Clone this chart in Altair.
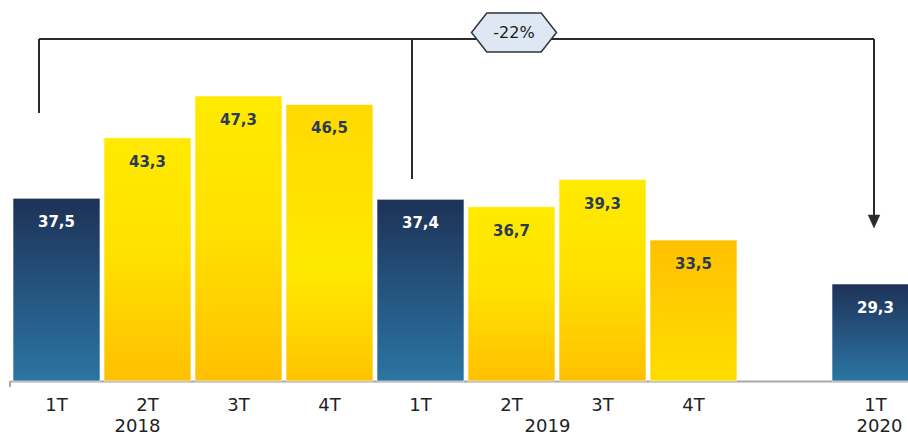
import altair as alt
import pandas as pd

# ---- data ----
slots = ["2018-1T", "2018-2T", "2018-3T", "2018-4T",
         "2019-1T", "2019-2T", "2019-3T", "2019-4T", "gap", "2020-1T"]
bar_slots = ["2018-1T", "2018-2T", "2018-3T", "2018-4T",
             "2019-1T", "2019-2T", "2019-3T", "2019-4T", "2020-1T"]
quarters = ["1T", "2T", "3T", "4T", "1T", "2T", "3T", "4T", "1T"]
years = ["2018"] * 4 + ["2019"] * 4 + ["2020"]
values = [37.5, 43.3, 47.3, 46.5, 37.4, 36.7, 39.3, 33.5, 29.3]
change_label = "-22%"

df = pd.DataFrame({"slot": bar_slots, "quarter": quarters, "year": years, "value": values})
df["label"] = [f"{v:.1f}".replace(".", ",") for v in values]
one = pd.DataFrame({"k": [0]})

FONT = "DejaVu Sans"
LINE = "#2b2b2b"


def grad(stops):
    return {"gradient": "linear", "x1": 0, "x2": 0, "y1": 0, "y2": 1,
            "stops": [{"offset": o, "color": c} for o, c in stops]}


blue_g = grad([(0, "#1d3257"), (0.5, "#25547f"), (1, "#2b75a2")])
yel_g = grad([(0, "#ffea00"), (0.45, "#ffe200"), (1, "#ffc000")])
yel_mid_g = grad([(0, "#ffd900"), (0.6, "#ffe900"), (1, "#ffc400")])
yel_rev_g = grad([(0, "#ffc000"), (1, "#ffdd00")])

xscale = alt.Scale(domain=slots, range=[0, 912], paddingInner=0.044, paddingOuter=0.033)
x_axis = alt.Axis(
    labelExpr="indexof(datum.label, '-') > 0 ? split(datum.label, '-')[1] : ''",
    labelAngle=0, labelFont=FONT, labelFontSize=18, labelColor="#222222",
    labelBaseline="alphabetic", labelPadding=29, ticks=False, tickSize=0,
    domainColor="#a8a8a8", domainWidth=2, labelOverlap=False, grid=False, title=None,
)
x_enc = alt.X("slot:N", scale=xscale, title=None, axis=x_axis)
y_enc = alt.Y("value:Q", scale=alt.Scale(domain=[20, 56.5], zero=False, nice=False), axis=None)

base = alt.Chart(df)


def bars(filt, g):
    return base.transform_filter(filt).mark_bar(
        color=g, stroke="#ffffff", strokeOpacity=0.6, strokeWidth=1
    ).encode(x=x_enc, y=y_enc, y2=alt.datum(20))


blue_bars = bars(alt.datum.quarter == "1T", blue_g)
yel_bars = bars((alt.datum.quarter == "2T") | (alt.datum.quarter == "3T"), yel_g)
yel_mid_bars = bars(alt.datum.slot == "2018-4T", yel_mid_g)
yel_rev_bars = bars(alt.datum.slot == "2019-4T", yel_rev_g)

labels = base.mark_text(
    font=FONT, fontSize=15, fontWeight="bold", baseline="alphabetic", dy=29
).encode(
    x=x_enc, y=y_enc, text="label:N",
    color=alt.condition(alt.datum.quarter == "1T", alt.value("#ffffff"), alt.value("#2b3a55")),
)


def year_text(year, dx):
    return base.transform_filter(
        (alt.datum.year == year) & (alt.datum.quarter == ("1T" if year == "2020" else "2T"))
    ).mark_text(font=FONT, fontSize=18, color="#222222", baseline="alphabetic", dx=dx).encode(
        x=x_enc, y=alt.value(432), text="year:N"
    )


yr18 = year_text("2018", -10)
yr19 = year_text("2019", 36)
yr20 = year_text("2020", 4)

ann = alt.Chart(one)


def xd(slot):
    return alt.X(datum=slot, type="nominal", scale=xscale, axis=x_axis)


top_line = ann.mark_rule(color=LINE, strokeWidth=2, xOffset=-17.5, x2Offset=-1.5).encode(
    x=xd("2018-1T"), x2=alt.X2(datum="2020-1T"), y=alt.value(39))
left_v = ann.mark_rule(color=LINE, strokeWidth=2, xOffset=-17.5).encode(
    x=xd("2018-1T"), y=alt.value(39), y2=alt.value(113))
mid_v = ann.mark_rule(color=LINE, strokeWidth=2, xOffset=-8.5).encode(
    x=xd("2019-1T"), y=alt.value(39), y2=alt.value(179))
right_v = ann.mark_rule(color=LINE, strokeWidth=2, xOffset=-1.5).encode(
    x=xd("2020-1T"), y=alt.value(39), y2=alt.value(217))
arrow = ann.mark_point(
    shape="M -0.45 -0.5 L 0.45 -0.5 L 0 0.5 Z", size=676, filled=True,
    fill=LINE, stroke=LINE, strokeWidth=0.5, opacity=1, xOffset=-1.5
).encode(x=xd("2020-1T"), y=alt.value(221.5))
left_tick = ann.mark_rule(color="#a8a8a8", strokeWidth=2).encode(
    x=alt.value(0), y=alt.value(381), y2=alt.value(387))

badge = ann.mark_point(
    shape="M -1 0 L -0.64 -0.46 L 0.64 -0.46 L 1 0 L 0.64 0.46 L -0.64 0.46 Z",
    size=7225, filled=True, fill="#dde8f4", stroke="#333333", strokeWidth=1.5, opacity=1,
).encode(x=alt.value(504), y=alt.value(32.5))
badge_text = ann.mark_text(font=FONT, fontSize=16, color="#1a1a1a", baseline="middle").encode(
    x=alt.value(504), y=alt.value(33), text=alt.value(change_label))

chart = alt.layer(
    blue_bars, yel_bars, yel_mid_bars, yel_rev_bars, labels,
    yr18, yr19, yr20,
    top_line, left_v, mid_v, right_v, arrow, left_tick, badge, badge_text,
).properties(
    width=898, height=381,
    padding={"left": 10, "top": 0, "right": 0, "bottom": 56},
    autosize="none",
).configure_view(stroke=None)

chart.save("out.html", embed_options={"renderer": "svg", "actions": False})
